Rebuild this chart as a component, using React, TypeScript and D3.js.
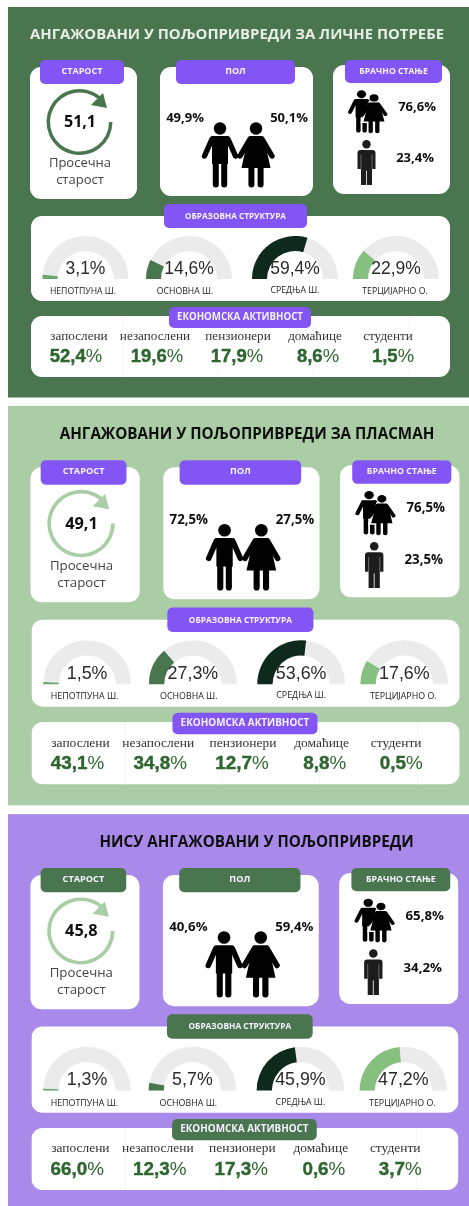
import React from 'react';
import * as d3 from 'd3';

const titles = ['АНГАЖОВАНИ У ПОЉОПРИВРЕДИ ЗА ЛИЧНЕ ПОТРЕБЕ', 'АНГАЖОВАНИ У ПОЉОПРИВРЕДИ ЗА ПЛАСМАН', 'НИСУ АНГАЖОВАНИ У ПОЉОПРИВРЕДИ'];
const ages = [51.1, 49.1, 45.8];
const maleShare = [49.9, 72.5, 40.6];
const femaleShare = [50.1, 27.5, 59.4];
const marriedShare = [76.6, 76.5, 65.8];
const singleShare = [23.4, 23.5, 34.2];

const eduLabels = ['НЕПОТПУНА Ш.', 'ОСНОВНА Ш.', 'СРЕДЊА Ш.', 'ТЕРЦИЈАРНО О.'];
const eduValues = [
    [3.1, 14.6, 59.4, 22.9],
    [1.5, 27.3, 53.6, 17.6],
    [1.3, 5.7, 45.9, 47.2],
];

const econLabels = ['запослени', 'незапослени', 'пензионери', 'домаћице', 'студенти'];
const econValues = [
    [52.4, 19.6, 17.9, 8.6, 1.5],
    [43.1, 34.8, 12.7, 8.8, 0.5],
    [66.0, 12.3, 17.3, 0.6, 3.7],
];

// Panel themes and placement (every panel is drawn in the first panel's coordinates)
const themes = [
    { bg: '#49764f', title: '#e8eee4', tab: '#8354f5', ring: '#49764f', titleX: 237, sx: 1, sy: 1, ty: 0 },
    { bg: '#aacda5', title: '#111111', tab: '#8354f5', ring: '#a9cda4', titleX: 242, sx: 1.0215, sy: 1.0227, ty: 398.8 },
    { bg: '#a98aea', title: '#111111', tab: '#49764f', ring: '#a9cda4', titleX: 252, sx: 1.019, sy: 1.016, ty: 807 },
];

const GREEN = '#2f6630';
const gaugeColors = ['#68a76c', '#49764f', '#10291a', '#86c07f'];
const sans = '"Open Sans", sans-serif';

const locale = d3.formatLocale({ decimal: ',', thousands: '.', grouping: [3], currency: ['', ''] });
const fmt = locale.format('.1f');
const pct = (v: number) => `${fmt(v)}%`;

const gaugeAngle = d3.scaleLinear().domain([0, 100]).range([-Math.PI / 2, Math.PI / 2]);
const gaugeArc = d3.arc().innerRadius(28).outerRadius(43);
const ringArc = d3.arc().innerRadius(29.5).outerRadius(33);
const gaugeX = [85.5, 189, 295, 396];
const eduLabelX = [83, 185, 295, 395];
const econLabelX = [79, 155, 238, 315, 388];
const econValueX = [76, 157, 237, 318, 393];
const dividerX = [123, 218, 313, 409];

const Card = ({ x, y, w, h }) => <rect x={x} y={y} width={w} height={h} rx={11} fill="white" />;

const Tab = ({ x, y, w, h, fill, text, textY, size }) => (
    <g>
        <rect x={x} y={y} width={w} height={h} rx={5} fill={fill} />
        <text x={x + w / 2} y={textY} textAnchor="middle" fill="#f6f2ff" fontFamily={sans} fontWeight={700} fontSize={size}>
            {text}
        </text>
    </g>
);

const line = d3.line();

// Figures are drawn around x = 0, from y = 0 (top of the head) to y = 65 (feet)
const limbs = (pts: [number, number][], w: number, color = 'black') => (
    <path d={line(pts)} fill="none" stroke={color} strokeWidth={w} strokeLinecap="round" strokeLinejoin="round" />
);

const Man = ({ x, y, kx = 1, ky = 1 }) => (
    <g transform={`translate(${x},${y}) scale(${kx},${ky})`}>
        <circle cx={0} cy={6.5} r={6.2} fill="black" />
        <path d="M-7,14 L7,14 Q9,14 10,16 L8,24 L8,42 L-8,42 L-8,24 L-10,16 Q-9,14 -7,14 Z" fill="black" />
        {limbs([[8, 17], [15.5, 34]], 5.4)}
        {limbs([[-8, 17], [-15.5, 34]], 5.4)}
        {limbs([[-4.2, 36], [-4.2, 62.5]], 6)}
        {limbs([[4.2, 36], [4.2, 62.5]], 6)}
    </g>
);

const Woman = ({ x, y, kx = 1, ky = 1, halo = false }) => (
    <g transform={`translate(${x},${y}) scale(${kx},${ky})`}>
        {halo && <path d="M-6,13 L6,13 L17,47 L-17,47 Z" fill="white" stroke="white" strokeWidth={3} />}
        <circle cx={0} cy={6.5} r={6.2} fill="black" />
        <path d="M-5,14 L5,14 Q7,14 8,16 L14.5,46 L-14.5,46 L-8,16 Q-7,14 -5,14 Z" fill="black" />
        {limbs([[6, 17], [16, 34]], 5.4)}
        {limbs([[-6, 17], [-16, 34]], 5.4)}
        {limbs([[-4.6, 44], [-4.6, 62.5]], 6)}
        {limbs([[4.6, 44], [4.6, 62.5]], 6)}
    </g>
);

const Standing = ({ x, y }) => (
    <g transform={`translate(${x},${y})`}>
        <circle cx={0} cy={4.2} r={4.2} fill="#1c1c1c" />
        <path d="M-6,10 L6,10 Q9,10 9,13 L9,29 L5.5,29 L5.5,45 L-5.5,45 L-5.5,29 L-9,29 L-9,13 Q-9,10 -6,10 Z" fill="#1c1c1c" />
        {limbs([[5.5, 15], [5.5, 29]], 0.7, '#8a8a8a')}
        {limbs([[-5.5, 15], [-5.5, 29]], 0.7, '#8a8a8a')}
        {limbs([[0, 31], [0, 45]], 1, '#d0d0d0')}
    </g>
);

const Panel = ({ i }) => {
    const t = themes[i];
    return (
        <g transform={`translate(${8 - 8 * t.sx},${t.ty}) scale(${t.sx},${t.sy})`}>
            <rect x={8} y={7} width={480} height={390.5} fill={t.bg} />
            <text x={t.titleX} y={39} textAnchor="middle" fill={t.title} fontFamily={sans} fontWeight={700} fontSize={14.9}>
                {titles[i]}
            </text>

            {/* Age */}
            <Card x={30} y={67} w={107} h={132} />
            <Tab x={40} y={60} w={84} h={24} fill={t.tab} text="СТАРОСТ" textY={74} size={9} />
            <path
                transform="translate(79.5,122)"
                d={ringArc({ startAngle: Math.PI / 2, endAngle: 2 * Math.PI + 0.72 })}
                fill={t.ring}
            />
            <path d={line([[103, 93], [107, 108], [91, 105]])} fill={t.ring} />
            <text x={80} y={127} textAnchor="middle" fill="#111" fontFamily={sans} fontWeight={700} fontSize={16}>
                {fmt(ages[i])}
            </text>
            <text x={80} y={167} textAnchor="middle" fill="#444" fontFamily={sans} fontSize={13}>Просечна</text>
            <text x={80} y={184} textAnchor="middle" fill="#444" fontFamily={sans} fontSize={13}>старост</text>

            {/* Gender */}
            <Card x={160} y={67} w={153} h={129} />
            <Tab x={176} y={60} w={119} h={24} fill={t.tab} text="ПОЛ" textY={74} size={9} />
            <text x={185} y={122} textAnchor="middle" fill="#111" fontFamily={sans} fontWeight={700} fontSize={13}>{pct(maleShare[i])}</text>
            <text x={289} y={122} textAnchor="middle" fill="#111" fontFamily={sans} fontWeight={700} fontSize={13}>{pct(femaleShare[i])}</text>
            <Man x={220} y={122} />
            <Woman x={256} y={122} />

            {/* Marital status */}
            <Card x={333} y={65} w={117} h={129} />
            <Tab x={345} y={60} w={97} h={23} fill={t.tab} text="БРАЧНО СТАЊЕ" textY={74} size={8.6} />
            <Man x={361.5} y={90} kx={0.74} ky={0.65} />
            <Woman x={374} y={94} kx={0.72} ky={0.6} halo />
            <Standing x={366.5} y={140} />
            <text x={417} y={111} textAnchor="middle" fill="#111" fontFamily={sans} fontWeight={700} fontSize={13}>{pct(marriedShare[i])}</text>
            <text x={415} y={162} textAnchor="middle" fill="#111" fontFamily={sans} fontWeight={700} fontSize={13}>{pct(singleShare[i])}</text>

            {/* Education */}
            <Card x={31} y={216} w={419} h={85} />
            <Tab x={164} y={204} w={143} h={24} fill={t.tab} text="ОБРАЗОВНА СТРУКТУРА" textY={219} size={8.2} />
            {eduValues[i].map((v, j) => (
                <g key={eduLabels[j]}>
                    <path
                        transform={`translate(${gaugeX[j]},279)`}
                        d={gaugeArc({ startAngle: -Math.PI / 2, endAngle: Math.PI / 2 })}
                        fill="#ebebeb"
                    />
                    <path
                        transform={`translate(${gaugeX[j]},279)`}
                        d={gaugeArc({ startAngle: -Math.PI / 2, endAngle: gaugeAngle(v) })}
                        fill={gaugeColors[j]}
                    />
                    <text x={gaugeX[j]} y={274} textAnchor="middle" fill="#2a2a2a" fontFamily='"Liberation Sans", sans-serif' fontSize={17.5}>
                        {pct(v)}
                    </text>
                    <text x={eduLabelX[j]} y={j === 2 ? 293 : 294} textAnchor="middle" fill="#222" fontFamily={sans} fontSize={8.7}>
                        {eduLabels[j]}
                    </text>
                </g>
            ))}

            {/* Economic activity */}
            <Card x={31} y={316} w={419} h={61} />
            {dividerX.map(x => (
                <line key={x} x1={x} x2={x} y1={316} y2={377} stroke="#f5f5f5" strokeWidth={1} />
            ))}
            <Tab x={169} y={307} w={142} h={21} fill={t.tab} text="ЕКОНОМСКА АКТИВНОСТ" textY={320} size={9.7} />
            {econValues[i].map((v, j) => (
                <g key={econLabels[j]}>
                    <text x={econLabelX[j]} y={340} textAnchor="middle" fill="#333" fontFamily='"Liberation Serif", serif' fontSize={13.2}>
                        {econLabels[j]}
                    </text>
                    <text x={econValueX[j]} y={362} textAnchor="middle" fill={GREEN} stroke={GREEN} strokeWidth={0.4} fontFamily='"Liberation Sans", sans-serif' fontWeight={700} fontSize={18.5}>
                        {fmt(v)}<tspan fontWeight={400} strokeWidth={0}>%</tspan>
                    </text>
                </g>
            ))}
        </g>
    );
};

const App = () => (
    <svg width={469} height={1206} style={{ position: 'absolute', left: 0, top: 0, display: 'block', background: 'white' }}>
        <defs>
            <filter id="soft" x="0" y="0" width="100%" height="100%">
                <feGaussianBlur stdDeviation="0.35" />
            </filter>
        </defs>
        <g filter="url(#soft)">
            {themes.map((_, i) => <Panel key={i} i={i} />)}
        </g>
    </svg>
);

export default App;
